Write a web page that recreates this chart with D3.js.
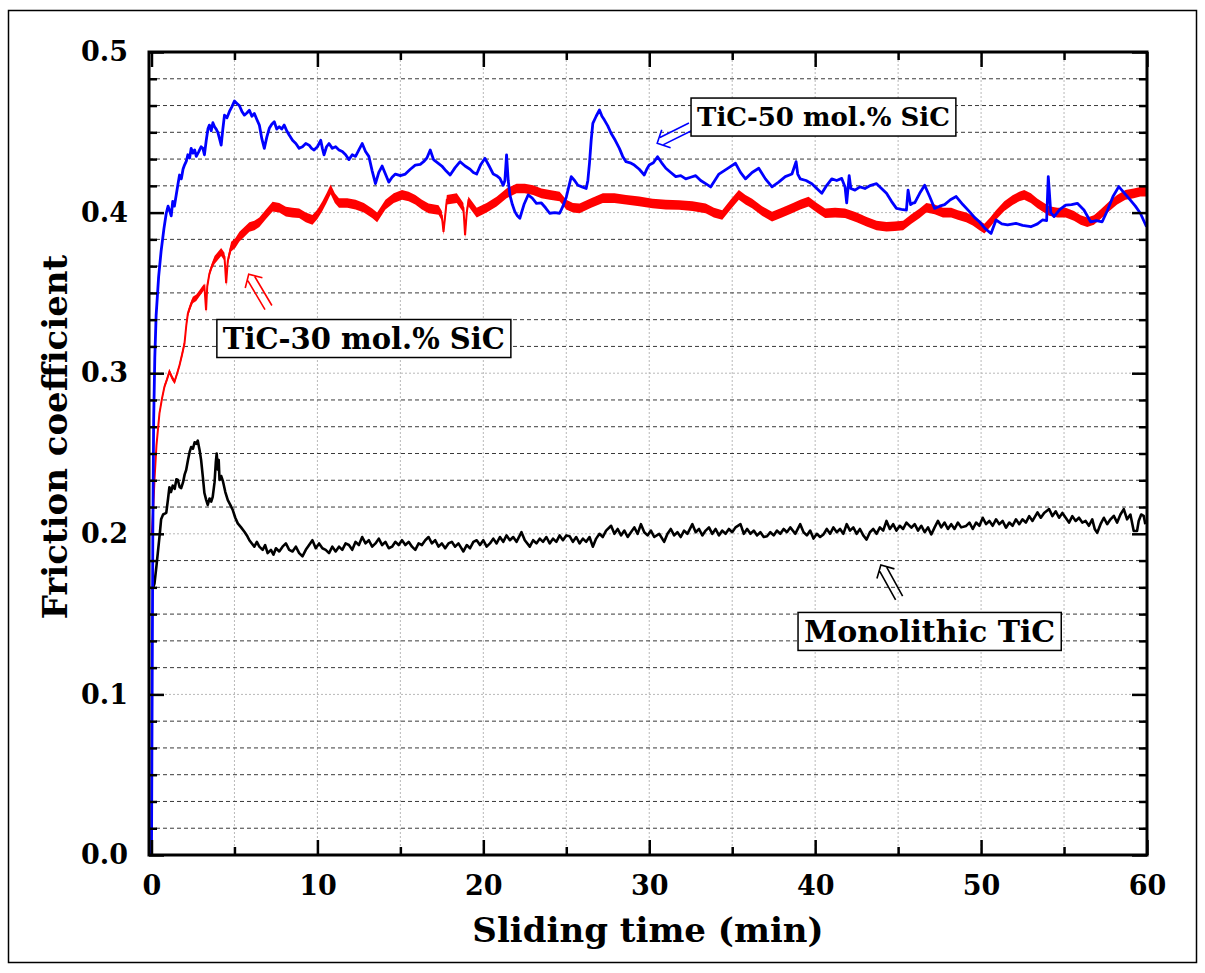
<!DOCTYPE html>
<html>
<head>
<meta charset="utf-8">
<script src="https://cdn.jsdelivr.net/npm/d3@7"></script>
<style>
  body { margin: 0; background: #fff; }
  svg { display: block; }
</style>
</head>
<body>
<script>
// friction coefficient vs sliding time
const monolithicTiC = [
  [0.05, 0.165], [0.18, 0.169], [0.3, 0.18], [0.38, 0.188], [0.5, 0.2], [0.58, 0.209], [0.7, 0.212], [0.89, 0.213],
  [1.0, 0.222], [1.08, 0.229], [1.18, 0.226], [1.28, 0.23], [1.4, 0.228], [1.5, 0.234], [1.59, 0.2335], [1.7, 0.229],
  [1.79, 0.2285], [1.9, 0.232], [2.0, 0.237], [2.09, 0.2397], [2.2, 0.246], [2.3, 0.251], [2.39, 0.254], [2.5, 0.253],
  [2.6, 0.257], [2.7, 0.256], [2.79, 0.258], [2.9, 0.252], [2.99, 0.246], [3.1, 0.235], [3.19, 0.2254], [3.3, 0.221],
  [3.39, 0.218], [3.5, 0.222], [3.6, 0.22], [3.69, 0.223], [3.8, 0.232], [3.88, 0.245], [3.93, 0.25], [4.0, 0.24],
  [4.05, 0.246], [4.1, 0.2335], [4.2, 0.236], [4.3, 0.233], [4.45, 0.226], [4.6, 0.221], [4.75, 0.218], [4.9, 0.2148],
  [5.05, 0.21], [5.2, 0.2065], [5.4, 0.204], [5.6, 0.2013], [5.75, 0.199], [5.9, 0.196], [6.05, 0.194], [6.2, 0.192],
  [6.35, 0.195], [6.5, 0.192], [6.7, 0.19], [6.85, 0.193], [7.0, 0.188], [7.2, 0.19], [7.35, 0.187], [7.5, 0.191],
  [7.7, 0.189], [7.9, 0.192], [8.1, 0.194], [8.3, 0.19], [8.5, 0.189], [8.7, 0.192], [8.9, 0.188], [9.1, 0.186],
  [9.3, 0.19], [9.5, 0.193], [9.7, 0.196], [9.9, 0.191], [10.1, 0.194], [10.3, 0.191], [10.5, 0.19], [10.7, 0.188],
  [10.9, 0.192], [11.1, 0.189], [11.3, 0.192], [11.5, 0.19], [11.7, 0.194], [11.9, 0.193], [12.1, 0.19], [12.3, 0.195],
  [12.5, 0.193], [12.7, 0.198], [12.9, 0.194], [13.1, 0.196], [13.3, 0.192], [13.5, 0.194], [13.7, 0.197], [13.9, 0.193],
  [14.1, 0.195], [14.3, 0.191], [14.5, 0.192], [14.7, 0.195], [14.9, 0.193], [15.1, 0.196], [15.3, 0.193], [15.5, 0.195],
  [15.7, 0.192], [15.9, 0.19], [16.1, 0.194], [16.3, 0.193], [16.5, 0.196], [16.7, 0.198], [16.9, 0.194], [17.1, 0.196],
  [17.3, 0.192], [17.5, 0.194], [17.7, 0.191], [17.9, 0.194], [18.1, 0.195], [18.3, 0.192], [18.5, 0.194], [18.8, 0.189],
  [19.0, 0.193], [19.2, 0.191], [19.4, 0.195], [19.6, 0.196], [19.8, 0.193], [20.0, 0.196], [20.2, 0.192], [20.4, 0.194],
  [20.6, 0.197], [20.8, 0.194], [21.0, 0.198], [21.2, 0.195], [21.4, 0.199], [21.6, 0.196], [21.8, 0.198], [22.0, 0.195],
  [22.3, 0.201], [22.5, 0.196], [22.8, 0.192], [23.0, 0.196], [23.2, 0.194], [23.4, 0.197], [23.6, 0.195], [23.8, 0.198],
  [24.0, 0.194], [24.2, 0.197], [24.4, 0.195], [24.6, 0.199], [24.8, 0.196], [25.0, 0.199], [25.2, 0.1985], [25.4, 0.195],
  [25.6, 0.198], [25.8, 0.194], [26.0, 0.197], [26.2, 0.195], [26.4, 0.198], [26.6, 0.192], [26.8, 0.197], [27.0, 0.2],
  [27.2, 0.198], [27.4, 0.202], [27.7, 0.205], [27.9, 0.2], [28.1, 0.203], [28.3, 0.199], [28.5, 0.202], [28.7, 0.198],
  [28.9, 0.201], [29.1, 0.204], [29.3, 0.2], [29.5, 0.206], [29.7, 0.201], [29.9, 0.199], [30.1, 0.202], [30.3, 0.198],
  [30.6, 0.2], [30.9, 0.195], [31.1, 0.2], [31.3, 0.203], [31.5, 0.199], [31.7, 0.201], [31.9, 0.198], [32.1, 0.202],
  [32.3, 0.2], [32.6, 0.206], [32.8, 0.201], [33.0, 0.203], [33.2, 0.199], [33.4, 0.202], [33.6, 0.204], [33.8, 0.2],
  [34.0, 0.203], [34.2, 0.199], [34.4, 0.202], [34.6, 0.2], [34.8, 0.203], [35.0, 0.201], [35.2, 0.204], [35.5, 0.206],
  [35.7, 0.2], [35.9, 0.203], [36.1, 0.2], [36.3, 0.202], [36.5, 0.199], [36.7, 0.201], [36.9, 0.198], [37.1, 0.1985],
  [37.3, 0.201], [37.5, 0.199], [37.7, 0.202], [37.9, 0.2], [38.1, 0.203], [38.3, 0.201], [38.5, 0.204], [38.8, 0.2],
  [39.1, 0.206], [39.3, 0.201], [39.5, 0.199], [39.7, 0.202], [39.9, 0.197], [40.1, 0.2], [40.3, 0.198], [40.5, 0.1996],
  [40.7, 0.203], [40.9, 0.2], [41.1, 0.204], [41.3, 0.201], [41.5, 0.203], [41.7, 0.2], [41.9, 0.206], [42.1, 0.202],
  [42.3, 0.204], [42.5, 0.2], [42.7, 0.203], [42.9, 0.199], [43.1, 0.1964], [43.3, 0.201], [43.5, 0.203], [43.7, 0.2],
  [43.9, 0.204], [44.1, 0.202], [44.3, 0.208], [44.5, 0.203], [44.7, 0.206], [44.9, 0.202], [45.1, 0.205], [45.3, 0.203],
  [45.5, 0.207], [45.8, 0.2038], [46.0, 0.206], [46.2, 0.202], [46.4, 0.205], [46.6, 0.201], [46.8, 0.204], [47.0, 0.1996],
  [47.2, 0.204], [47.4, 0.208], [47.6, 0.204], [47.8, 0.207], [48.0, 0.203], [48.2, 0.206], [48.4, 0.203], [48.6, 0.207],
  [48.8, 0.204], [49.1, 0.2049], [49.3, 0.207], [49.5, 0.203], [49.7, 0.207], [49.9, 0.205], [50.1, 0.21], [50.3, 0.206],
  [50.5, 0.208], [50.7, 0.205], [50.9, 0.209], [51.1, 0.206], [51.3, 0.208], [51.5, 0.2038], [51.7, 0.207], [51.9, 0.205],
  [52.1, 0.209], [52.3, 0.206], [52.5, 0.209], [52.7, 0.207], [52.9, 0.211], [53.1, 0.208], [53.4, 0.2133], [53.6, 0.21],
  [53.8, 0.213], [54.1, 0.2154], [54.3, 0.211], [54.5, 0.214], [54.7, 0.21], [54.9, 0.213], [55.1, 0.21], [55.3, 0.207],
  [55.5, 0.211], [55.7, 0.208], [55.9, 0.21], [56.1, 0.207], [56.3, 0.208], [56.5, 0.205], [56.7, 0.209], [56.85, 0.203],
  [57.0, 0.2006], [57.2, 0.206], [57.4, 0.21], [57.6, 0.206], [57.8, 0.209], [58.0, 0.2112], [58.2, 0.207], [58.4, 0.212],
  [58.6, 0.2154], [58.8, 0.209], [59.0, 0.212], [59.2, 0.2017], [59.4, 0.2017], [59.5, 0.208], [59.65, 0.212], [59.8, 0.2112],
  [59.9, 0.206]
]

// [time, value, half width of the noise band]
const tic30SiC = [
  [0.02, 0.2, 0.001], [0.1, 0.215, 0.001], [0.18, 0.2335, 0.001], [0.3, 0.255, 0.001], [0.48, 0.275, 0.0015],
  [0.63, 0.284, 0.0015], [0.78, 0.2916, 0.0015], [0.93, 0.296, 0.0015], [1.08, 0.301, 0.0015], [1.25, 0.297, 0.0015],
  [1.39, 0.2947, 0.0015], [1.55, 0.3, 0.0015], [1.69, 0.305, 0.0015], [1.85, 0.312, 0.002], [1.99, 0.3186, 0.002],
  [2.1, 0.33, 0.002], [2.19, 0.337, 0.002], [2.35, 0.342, 0.002], [2.49, 0.3456, 0.002], [2.7, 0.347, 0.002],
  [2.89, 0.3497, 0.002], [3.05, 0.352, 0.002], [3.19, 0.3539, 0.002], [3.29, 0.3393, 0.002], [3.36, 0.354, 0.002],
  [3.49, 0.362, 0.002], [3.65, 0.367, 0.002], [3.8, 0.3705, 0.0025], [4.0, 0.373, 0.0025], [4.2, 0.3755, 0.0025],
  [4.4, 0.3725, 0.0025], [4.5, 0.356, 0.002], [4.6, 0.37, 0.0025], [4.8, 0.3788, 0.003], [5.05, 0.381, 0.003],
  [5.3, 0.385, 0.003], [5.6, 0.388, 0.003], [5.9, 0.391, 0.003], [6.2, 0.392, 0.003], [6.5, 0.394, 0.003],
  [6.9, 0.399, 0.003], [7.3, 0.4037, 0.003], [7.7, 0.403, 0.003], [8.1, 0.4006, 0.003], [8.5, 0.4, 0.003],
  [8.9, 0.3996, 0.003], [9.3, 0.397, 0.003], [9.7, 0.3955, 0.003], [10.0, 0.399, 0.003], [10.3, 0.404, 0.003],
  [10.55, 0.409, 0.003], [10.8, 0.4145, 0.003], [11.05, 0.409, 0.003], [11.3, 0.406, 0.003], [11.8, 0.406, 0.003],
  [12.3, 0.405, 0.003], [12.8, 0.403, 0.003], [13.3, 0.3996, 0.003], [13.6, 0.397, 0.003], [14.1, 0.405, 0.003],
  [14.6, 0.409, 0.003], [15.1, 0.411, 0.003], [15.5, 0.41, 0.003], [15.9, 0.408, 0.003], [16.3, 0.405, 0.003],
  [16.7, 0.4026, 0.003], [17.3, 0.4016, 0.003], [17.5, 0.398, 0.003], [17.6, 0.388, 0.002], [17.7, 0.398, 0.003],
  [17.8, 0.408, 0.003], [18.4, 0.409, 0.003], [18.8, 0.403, 0.003], [18.9, 0.386, 0.002], [19.0, 0.4, 0.003],
  [19.1, 0.407, 0.003], [19.6, 0.4, 0.003], [20.2, 0.403, 0.003], [20.8, 0.4068, 0.003], [21.4, 0.412, 0.003],
  [22.0, 0.415, 0.003], [22.5, 0.415, 0.003], [23.0, 0.414, 0.003], [23.5, 0.412, 0.003], [24.0, 0.411, 0.003],
  [24.6, 0.41, 0.003], [25.0, 0.405, 0.003], [25.4, 0.403, 0.003], [25.8, 0.4026, 0.003], [26.5, 0.406, 0.003],
  [27.2, 0.409, 0.003], [27.9, 0.409, 0.003], [28.6, 0.408, 0.003], [29.4, 0.407, 0.003], [30.2, 0.4057, 0.003],
  [31.0, 0.405, 0.003], [31.8, 0.4047, 0.003], [32.6, 0.404, 0.003], [33.4, 0.4026, 0.003], [33.9, 0.4, 0.003],
  [34.4, 0.3985, 0.003], [34.9, 0.405, 0.003], [35.4, 0.411, 0.003], [35.8, 0.408, 0.003], [36.2, 0.4057, 0.003],
  [36.8, 0.401, 0.003], [37.4, 0.3975, 0.003], [38.0, 0.4, 0.003], [38.6, 0.4026, 0.003], [39.1, 0.405, 0.003],
  [39.6, 0.4068, 0.003], [40.1, 0.403, 0.003], [40.6, 0.3996, 0.003], [41.2, 0.4, 0.003], [41.8, 0.3996, 0.003],
  [42.5, 0.397, 0.003], [43.1, 0.3943, 0.003], [43.7, 0.392, 0.003], [44.3, 0.3912, 0.003], [44.8, 0.3915, 0.003],
  [45.3, 0.392, 0.003], [45.8, 0.396, 0.003], [46.3, 0.3996, 0.003], [46.7, 0.403, 0.003], [47.2, 0.402, 0.003],
  [47.7, 0.4, 0.003], [48.2, 0.4, 0.003], [48.6, 0.3985, 0.003], [49.1, 0.397, 0.003], [49.5, 0.395, 0.003],
  [49.9, 0.392, 0.003], [50.2, 0.39, 0.003], [50.55, 0.394, 0.003], [50.9, 0.3985, 0.003], [51.4, 0.404, 0.003],
  [51.9, 0.4078, 0.003], [52.3, 0.41, 0.003], [52.6, 0.411, 0.003], [53.0, 0.409, 0.003], [53.4, 0.4057, 0.003],
  [53.8, 0.403, 0.003], [54.1, 0.401, 0.003], [54.6, 0.4, 0.003], [55.1, 0.4, 0.003], [55.6, 0.398, 0.003],
  [56.0, 0.3954, 0.003], [56.4, 0.394, 0.003], [56.8, 0.3954, 0.003], [57.2, 0.399, 0.003], [57.7, 0.4037, 0.003],
  [58.2, 0.408, 0.003], [58.7, 0.411, 0.003], [59.2, 0.412, 0.003], [59.6, 0.413, 0.003], [59.97, 0.413, 0.003]
]

const tic50SiC = [
  [0, 0], [0.04, 0.1], [0.08, 0.2], [0.13, 0.27], [0.2, 0.31], [0.28, 0.336], [0.43, 0.36], [0.58, 0.376], [0.75, 0.39],
  [0.89, 0.3996], [1.0, 0.404], [1.1, 0.401], [1.19, 0.398], [1.28, 0.407], [1.38, 0.404], [1.49, 0.411], [1.6, 0.418],
  [1.69, 0.4234], [1.8, 0.421], [1.9, 0.427], [1.99, 0.4296], [2.1, 0.432], [2.19, 0.436], [2.3, 0.434], [2.39, 0.44],
  [2.5, 0.437], [2.6, 0.439], [2.7, 0.435], [2.85, 0.438], [2.99, 0.441], [3.1, 0.44], [3.19, 0.436], [3.3, 0.445],
  [3.4, 0.452], [3.49, 0.4545], [3.6, 0.451], [3.7, 0.456], [3.8, 0.4535], [3.9, 0.452], [4.0, 0.45], [4.1, 0.446],
  [4.2, 0.442], [4.3, 0.452], [4.4, 0.4607], [4.55, 0.459], [4.7, 0.463], [4.85, 0.466], [5.0, 0.4695], [5.15, 0.468],
  [5.3, 0.4665], [5.45, 0.463], [5.6, 0.4607], [5.75, 0.462], [5.9, 0.4637], [6.05, 0.46], [6.2, 0.4617], [6.35, 0.458],
  [6.5, 0.4545], [6.65, 0.446], [6.8, 0.44], [6.95, 0.447], [7.1, 0.4525], [7.25, 0.455], [7.4, 0.4566], [7.55, 0.452],
  [7.7, 0.4535], [7.85, 0.452], [8.0, 0.4545], [8.15, 0.451], [8.3, 0.4483], [8.5, 0.445], [8.7, 0.443], [8.9, 0.44],
  [9.1, 0.441], [9.3, 0.443], [9.5, 0.442], [9.65, 0.44], [9.8, 0.439], [10.0, 0.441], [10.2, 0.445], [10.3, 0.44],
  [10.4, 0.436], [10.55, 0.441], [10.7, 0.443], [10.9, 0.44], [11.1, 0.441], [11.3, 0.439], [11.5, 0.438], [11.7, 0.436],
  [11.9, 0.433], [12.1, 0.436], [12.3, 0.435], [12.5, 0.439], [12.7, 0.443], [12.9, 0.438], [13.1, 0.435], [13.3, 0.426],
  [13.5, 0.418], [13.7, 0.425], [13.9, 0.429], [14.1, 0.424], [14.3, 0.419], [14.5, 0.422], [14.7, 0.424], [15.0, 0.423],
  [15.3, 0.424], [15.6, 0.427], [15.9, 0.4296], [16.2, 0.43], [16.4, 0.4317], [16.6, 0.434], [16.8, 0.439], [17.0, 0.433],
  [17.25, 0.431], [17.5, 0.429], [17.75, 0.426], [18.0, 0.4234], [18.3, 0.428], [18.6, 0.4317], [18.9, 0.429], [19.2, 0.427],
  [19.4, 0.425], [19.6, 0.424], [19.85, 0.43], [20.1, 0.4338], [20.35, 0.429], [20.6, 0.424], [20.8, 0.423], [21.0, 0.4213],
  [21.2, 0.417], [21.3, 0.42], [21.4, 0.436], [21.5, 0.42], [21.6, 0.411], [21.75, 0.405], [21.9, 0.4006], [22.05, 0.398],
  [22.2, 0.3965], [22.45, 0.405], [22.7, 0.411], [22.95, 0.409], [23.2, 0.4058], [23.5, 0.406], [23.75, 0.403], [24.0, 0.3996],
  [24.3, 0.4], [24.6, 0.3996], [24.8, 0.404], [25.0, 0.4096], [25.15, 0.416], [25.3, 0.4224], [25.5, 0.42], [25.7, 0.417],
  [25.95, 0.416], [26.2, 0.415], [26.3, 0.42], [26.4, 0.431], [26.5, 0.445], [26.6, 0.4556], [26.8, 0.46], [27.0, 0.4639],
  [27.15, 0.46], [27.3, 0.4576], [27.5, 0.454], [27.7, 0.4494], [27.95, 0.445], [28.2, 0.44], [28.4, 0.435], [28.6, 0.4317],
  [28.85, 0.431], [29.1, 0.4296], [29.4, 0.427], [29.7, 0.4234], [29.85, 0.427], [30.0, 0.4296], [30.25, 0.431], [30.5, 0.4348],
  [30.75, 0.431], [31.0, 0.4276], [31.3, 0.425], [31.6, 0.4224], [31.9, 0.423], [32.2, 0.421], [32.5, 0.422], [32.8, 0.423],
  [33.1, 0.42], [33.4, 0.418], [33.7, 0.416], [33.95, 0.42], [34.2, 0.424], [34.5, 0.426], [34.8, 0.428], [35.2, 0.4307],
  [35.5, 0.425], [35.8, 0.421], [36.2, 0.425], [36.6, 0.4276], [37.0, 0.421], [37.4, 0.416], [37.8, 0.419], [38.2, 0.4224],
  [38.6, 0.424], [38.85, 0.4317], [38.95, 0.424], [39.1, 0.421], [39.45, 0.42], [39.8, 0.418], [40.1, 0.415], [40.4, 0.412],
  [40.7, 0.417], [41.0, 0.421], [41.3, 0.42], [41.6, 0.4213], [41.8, 0.416], [41.9, 0.406], [42.05, 0.423], [42.15, 0.415],
  [42.4, 0.414], [42.7, 0.416], [43.0, 0.415], [43.35, 0.417], [43.7, 0.418], [44.0, 0.415], [44.3, 0.412], [44.6, 0.407],
  [44.9, 0.4026], [45.2, 0.402], [45.5, 0.4016], [45.6, 0.414], [45.75, 0.405], [45.9, 0.406], [46.0, 0.406], [46.3, 0.412],
  [46.6, 0.417], [46.9, 0.41], [47.2, 0.4026], [47.5, 0.404], [47.8, 0.405], [48.15, 0.408], [48.5, 0.41], [48.9, 0.405],
  [49.3, 0.4006], [49.6, 0.397], [49.9, 0.3943], [50.25, 0.39], [50.6, 0.387], [50.9, 0.3954], [51.25, 0.393], [51.6, 0.3923],
  [52.1, 0.3933], [52.5, 0.392], [53.0, 0.3912], [53.4, 0.393], [53.7, 0.3954], [53.95, 0.395], [54.05, 0.4224], [54.2, 0.4],
  [54.4, 0.3975], [54.75, 0.402], [55.1, 0.4047], [55.45, 0.405], [55.8, 0.4058], [56.2, 0.4016], [56.6, 0.3943], [56.95, 0.395],
  [57.3, 0.3943], [57.6, 0.401], [57.95, 0.41], [58.3, 0.4162], [58.65, 0.412], [59.0, 0.4078], [59.3, 0.404], [59.6, 0.3996],
  [59.97, 0.3912]
]

const xTicks = [0, 10, 20, 30, 40, 50, 60]
const xMinorTicks = [5, 15, 25, 35, 45, 55]
const yTicks = [0, 0.1, 0.2, 0.3, 0.4, 0.5]
const yMinorTicks = d3.range(1, 30).filter(i => i % 6 !== 0).map(i => i / 60)

// labels: box centre [t, v], arrow tail and head [t, v]
const labels = [
  { text: 'TiC-50 mol.% SiC', at: [40.5, 0.4595], size: 26, color: '#0000ff', tail: [32.5, 0.4535], head: [30.48, 0.4432] },
  { text: 'TiC-30 mol.% SiC', at: [12.8, 0.3216], size: 29, color: '#ff0000', tail: [7.05, 0.3409], head: [5.86, 0.3616] },
  { text: 'Monolithic TiC', at: [46.9, 0.1392], size: 30, color: '#000000', tail: [45.06, 0.16], head: [43.96, 0.1806] }
]

const W = 1205
const H = 973
const plot = { left: 149, right: 1147, top: 52, bottom: 855 }
const font = "'DejaVu Serif', 'Liberation Serif', serif"

const x = d3.scaleLinear().domain([-0.15, 60]).range([plot.left, plot.right])
const y = d3.scaleLinear().domain([0, 0.5]).range([plot.bottom, plot.top])

const svg = d3.select('body').append('svg')
  .attr('width', W)
  .attr('height', H)
  .attr('xmlns', 'http://www.w3.org/2000/svg')

svg.append('rect')
  .attr('x', 8.5).attr('y', 10.5)
  .attr('width', 1188).attr('height', 952)
  .attr('fill', '#fff')
  .attr('stroke', '#000')
  .attr('stroke-width', 1.5)

// grid
const grid = svg.append('g')
grid.selectAll('line.vgrid')
  .data(xMinorTicks.concat([10, 20, 30, 40, 50]))
  .join('line')
  .attr('x1', d => x(d)).attr('x2', d => x(d))
  .attr('y1', plot.top).attr('y2', plot.bottom)
  .attr('stroke', '#b8b8b8')
  .attr('stroke-width', 1)
  .attr('stroke-dasharray', '2,2')
grid.selectAll('line.major')
  .data([0.1, 0.2, 0.3, 0.4])
  .join('line')
  .attr('x1', plot.left).attr('x2', plot.right)
  .attr('y1', d => y(d)).attr('y2', d => y(d))
  .attr('stroke', '#b8b8b8')
  .attr('stroke-width', 1)
  .attr('stroke-dasharray', '2,2')
grid.selectAll('line.minor')
  .data(yMinorTicks)
  .join('line')
  .attr('class', 'minor')
  .attr('x1', plot.left).attr('x2', plot.right)
  .attr('y1', d => y(d)).attr('y2', d => y(d))
  .attr('stroke', '#3a3a3a')
  .attr('stroke-width', 1)
  .attr('stroke-dasharray', '4,3')

// series
const line = d3.line().x(d => x(d[0])).y(d => y(d[1]))
const band = d3.area().x(d => x(d[0])).y0(d => y(d[1] - d[2])).y1(d => y(d[1] + d[2]))

svg.append('path')
  .datum(monolithicTiC)
  .attr('d', line)
  .attr('fill', 'none')
  .attr('stroke', '#000')
  .attr('stroke-width', 2.6)
  .attr('stroke-linejoin', 'round')

svg.append('path')
  .datum(tic30SiC)
  .attr('d', band)
  .attr('fill', '#ff0000')
svg.append('path')
  .datum(tic30SiC)
  .attr('d', line)
  .attr('fill', 'none')
  .attr('stroke', '#ff0000')
  .attr('stroke-width', 2)

svg.append('path')
  .datum(tic50SiC)
  .attr('d', line)
  .attr('fill', 'none')
  .attr('stroke', '#0000ff')
  .attr('stroke-width', 2.8)
  .attr('stroke-linejoin', 'round')

// axes with inward ticks
const styleAxis = g => g
  .call(g => g.select('.domain').remove())
  .call(g => g.selectAll('.tick line').attr('stroke', '#000').attr('stroke-width', 2.5))
  .call(g => g.selectAll('.tick text')
    .attr('fill', '#000')
    .attr('font-family', font)
    .attr('font-weight', 'bold')
    .attr('font-size', 27))

svg.append('g').attr('transform', `translate(0,${plot.bottom})`)
  .call(d3.axisBottom(x).tickValues(xTicks).tickSize(-15).tickPadding(21).tickFormat(d3.format('d')))
  .call(styleAxis)
svg.append('g').attr('transform', `translate(0,${plot.bottom})`)
  .call(d3.axisBottom(x).tickValues(xMinorTicks).tickSize(-8).tickFormat(''))
  .call(styleAxis)
svg.append('g').attr('transform', `translate(0,${plot.top})`)
  .call(d3.axisTop(x).tickValues(xTicks).tickSize(-15).tickFormat(''))
  .call(styleAxis)
svg.append('g').attr('transform', `translate(0,${plot.top})`)
  .call(d3.axisTop(x).tickValues(xMinorTicks).tickSize(-8).tickFormat(''))
  .call(styleAxis)

svg.append('g').attr('transform', `translate(${plot.left},0)`)
  .call(d3.axisLeft(y).tickValues(yTicks).tickSize(-15).tickPadding(21).tickFormat(d3.format('.1f')))
  .call(styleAxis)
svg.append('g').attr('transform', `translate(${plot.left},0)`)
  .call(d3.axisLeft(y).tickValues(yMinorTicks).tickSize(-8).tickFormat(''))
  .call(styleAxis)
svg.append('g').attr('transform', `translate(${plot.right},0)`)
  .call(d3.axisRight(y).tickValues(yTicks).tickSize(-15).tickFormat(''))
  .call(styleAxis)
svg.append('g').attr('transform', `translate(${plot.right},0)`)
  .call(d3.axisRight(y).tickValues(yMinorTicks).tickSize(-8).tickFormat(''))
  .call(styleAxis)

svg.append('rect')
  .attr('x', plot.left).attr('y', plot.top)
  .attr('width', plot.right - plot.left)
  .attr('height', plot.bottom - plot.top)
  .attr('fill', 'none')
  .attr('stroke', '#000')
  .attr('stroke-width', 3)

// axis titles
svg.append('text')
  .text('Sliding time (min)')
  .attr('x', (plot.left + plot.right) / 2)
  .attr('y', 942)
  .attr('text-anchor', 'middle')
  .attr('font-family', font)
  .attr('font-weight', 'bold')
  .attr('font-size', 34)

svg.append('text')
  .text('Friction coefficient')
  .attr('transform', 'translate(67,437) rotate(-90)')
  .attr('text-anchor', 'middle')
  .attr('font-family', font)
  .attr('font-weight', 'bold')
  .attr('font-size', 34)

// double-line arrows
function doubleArrow (g, tail, head, color) {
  const x0 = x(tail[0]); const y0 = y(tail[1])
  const x1 = x(head[0]); const y1 = y(head[1])
  const len = Math.hypot(x1 - x0, y1 - y0)
  const ang = Math.atan2(y1 - y0, x1 - x0) * 180 / Math.PI
  const s = 4
  g.append('path')
    .attr('transform', `translate(${x0},${y0}) rotate(${ang})`)
    .attr('d', `M0,${-s}L${len - 5},${-s}M0,${s}L${len - 5},${s}M${len - 10},${-10}L${len},0L${len - 10},10`)
    .attr('fill', 'none')
    .attr('stroke', color)
    .attr('stroke-width', 1.6)
}

const notes = svg.append('g')
labels.forEach(d => {
  doubleArrow(notes, d.tail, d.head, d.color)
  const g = notes.append('g').attr('transform', `translate(${x(d.at[0])},${y(d.at[1])})`)
  const t = g.append('text')
    .text(d.text)
    .attr('text-anchor', 'middle')
    .attr('dy', '0.36em')
    .attr('font-family', font)
    .attr('font-weight', 'bold')
    .attr('font-size', d.size)
  const bb = t.node().getBBox()
  g.insert('rect', 'text')
    .attr('x', bb.x - 6).attr('y', -19)
    .attr('width', bb.width + 12).attr('height', 38)
    .attr('fill', '#fff')
    .attr('stroke', '#000')
    .attr('stroke-width', 1.5)
})
</script>
</body>
</html>
